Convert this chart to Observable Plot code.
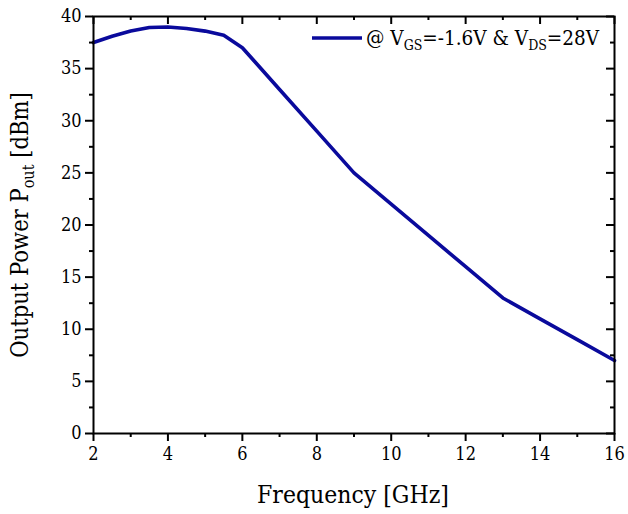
<!DOCTYPE html>
<html>
<head>
<meta charset="utf-8">
<script src="https://cdn.jsdelivr.net/npm/d3@7"></script>
<script src="https://cdn.jsdelivr.net/npm/@observablehq/plot@0.6"></script>
<style>
  html, body { margin: 0; padding: 0; background: #fff; }
  #chart svg { display: block; }
  #chart svg, #chart svg text { font-family: "DejaVu Serif Condensed", "DejaVu Serif" !important; }
</style>
</head>
<body>
<div id="chart"></div>
<script>
// Data
const freq = [2, 2.5, 3, 3.5, 4, 4.5, 5, 5.5, 6, 7, 8, 9, 10, 11, 12, 13, 14, 15, 16];
const pout = [37.5, 38.1, 38.6, 38.95, 39.0, 38.85, 38.6, 38.2, 37.0, 33, 29, 25, 22, 19, 16, 13, 11, 9, 7];
const xMajorTicks = [2, 4, 6, 8, 10, 12, 14, 16];
const xMinorTicks = [3, 5, 7, 9, 11, 13, 15];
const yMajorTicks = [0, 5, 10, 15, 20, 25, 30, 35, 40];
const yMinorTicks = [2.5, 7.5, 12.5, 17.5, 22.5, 27.5, 32.5, 37.5];
const seriesLabel = {pre: "@ V", sub1: "GS", mid: "=-1.6V & V", sub2: "DS", post: "=28V"};

const rows = freq.map((f, i) => ({f, p: pout[i]}));
const lineColor = "#0a0a9c";

const plot = Plot.plot({
  width: 628,
  height: 514,
  marginLeft: 93,
  marginRight: 14,
  marginTop: 16,
  marginBottom: 81,
  style: {fontSize: "17px", color: "#000", background: "#fff"},
  x: {domain: [2, 16]},
  y: {domain: [0, 40]},
  marks: [
    Plot.line(rows, {x: "f", y: "p", stroke: lineColor, strokeWidth: 3.6, curve: "linear", strokeLinejoin: "round"}),
    Plot.frame({stroke: "#000", strokeWidth: 2}),
    Plot.axisX(xMajorTicks, {anchor: "bottom", tickSize: 8, tickPadding: 6, strokeWidth: 2, fontSize: 18, label: null}),
    Plot.axisX(xMinorTicks, {anchor: "bottom", tickSize: 4, strokeWidth: 2, text: null, label: null}),
    Plot.axisX(xMajorTicks, {anchor: "bottom", frameAnchor: "top", tickSize: 8, strokeWidth: 2, text: null, label: null}),
    Plot.axisX(xMinorTicks, {anchor: "bottom", frameAnchor: "top", tickSize: 4, strokeWidth: 2, text: null, label: null}),
    Plot.axisY(yMajorTicks, {anchor: "left", tickSize: 8, tickPadding: 4, strokeWidth: 2, fontSize: 18, label: null}),
    Plot.axisY(yMinorTicks, {anchor: "left", tickSize: 4, strokeWidth: 2, text: null, label: null}),
    Plot.axisY(yMajorTicks, {anchor: "left", frameAnchor: "right", tickSize: 8, strokeWidth: 2, text: null, label: null}),
    Plot.axisY(yMinorTicks, {anchor: "left", frameAnchor: "right", tickSize: 4, strokeWidth: 2, text: null, label: null})
  ]
});

document.getElementById("chart").appendChild(plot);

// Axis titles and legend with subscripts
const svg = d3.select(plot);

svg.append("text")
  .attr("x", 353).attr("y", 503)
  .attr("text-anchor", "middle")
  .style("font-size", "24.5px").attr("fill", "#000")
  .text("Frequency [GHz]");

const yt = svg.append("text")
  .attr("transform", "translate(28,225) rotate(-90)")
  .attr("text-anchor", "middle")
  .style("font-size", "23.5px").attr("fill", "#000");
yt.append("tspan").text("Output Power P");
yt.append("tspan").attr("dy", 6).style("font-size", "16px").text("out");
yt.append("tspan").attr("dy", -6).text(" [dBm]");

const lg = svg.append("g");
lg.append("line")
  .attr("x1", 312).attr("x2", 362).attr("y1", 38).attr("y2", 38)
  .attr("stroke", lineColor).attr("stroke-width", 3.6);
const lt = lg.append("text")
  .attr("x", 366).attr("y", 45)
  .attr("text-anchor", "start")
  .style("font-size", "20.5px").attr("fill", "#000");
lt.append("tspan").text(seriesLabel.pre);
lt.append("tspan").attr("dy", 5).style("font-size", "14px").text(seriesLabel.sub1);
lt.append("tspan").attr("dy", -5).text(seriesLabel.mid);
lt.append("tspan").attr("dy", 5).style("font-size", "14px").text(seriesLabel.sub2);
lt.append("tspan").attr("dy", -5).text(seriesLabel.post);
</script>
</body>
</html>
